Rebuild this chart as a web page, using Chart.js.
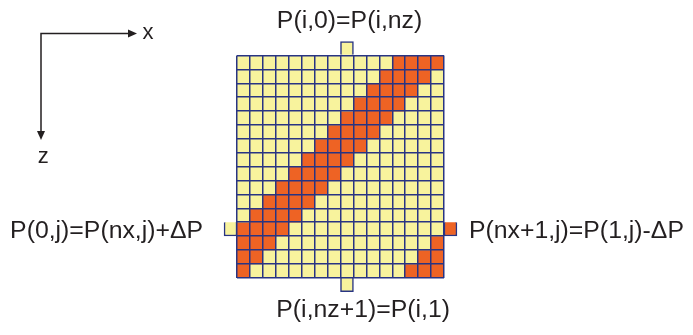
<!DOCTYPE html>
<html>
<head>
<meta charset="utf-8">
<script src="https://cdn.jsdelivr.net/npm/chart.js@4/dist/chart.umd.min.js"></script>
<style>
  html, body { margin: 0; padding: 0; background: #ffffff; }
  #wrap { width: 693px; height: 335px; }
</style>
</head>
<body>
<div id="wrap"><canvas id="grid" width="693" height="335"></canvas></div>
<script>
// Grid size (columns along x, rows along z)
const nx = 16;
const nz = 16;

// Cell states, row by row from the top: 1 = phase B (orange), 0 = phase A (yellow)
const cellRows = [
  '0000000000001111',
  '0000000000011110',
  '0000000000111100',
  '0000000001111000',
  '0000000011110000',
  '0000000111100000',
  '0000001111000000',
  '0000011110000000',
  '0000111100000000',
  '0001111000000000',
  '0011110000000000',
  '0111100000000000',
  '1111000000000000',
  '1110000000000001',
  '1100000000000011',
  '1000000000000111'
];

// Ghost cells outside the domain: column, row, state
const ghostCols   = [8, 8, -1, 16];
const ghostRows   = [-1, 16, 12, 12];
const ghostStates = [0, 0, 0, 1];

// Boundary-condition captions
const labelTop    = 'P(i,0)=P(i,nz)';
const labelBottom = 'P(i,nz+1)=P(i,1)';
const labelLeft   = 'P(0,j)=P(nx,j)+\u0394P';
const labelRight  = 'P(nx+1,j)=P(1,j)-\u0394P';
const axisLabelX  = 'x';
const axisLabelZ  = 'z';

const YELLOW = '#f8f39d';
const ORANGE = '#ee6324';
const NAVY   = '#283483';
const INK    = '#231f20';
const FONT   = '"Liberation Sans", Arial, sans-serif';

const fillFor = ctx => (ctx.raw && ctx.raw.s === 1 ? ORANGE : YELLOW);

const datasets = cellRows.map((row, r) => ({
  data: [...row].map((ch, c) => ({ x: c + 0.5, y: [r, r + 1], s: Number(ch) })),
  backgroundColor: fillFor,
  borderWidth: 0
}));

datasets.push({
  data: ghostCols.map((c, k) => ({ x: c + 0.5, y: [ghostRows[k], ghostRows[k] + 1], s: ghostStates[k] })),
  backgroundColor: fillFor,
  borderColor: NAVY,
  borderWidth: 1.5,
  clip: false
});

// one tick (and grid line) per cell boundary
const unitTicks = n => scale => {
  scale.ticks = Array.from({ length: n + 1 }, (_, i) => ({ value: i }));
};

// Captions and the x/z direction arrows
const annotations = {
  id: 'annotations',
  afterDraw(chart) {
    const { ctx, scales: { x, y } } = chart;
    ctx.save();
    ctx.fillStyle = INK;
    ctx.strokeStyle = INK;
    ctx.font = '24.8px ' + FONT;
    ctx.textBaseline = 'alphabetic';

    ctx.textAlign = 'center';
    ctx.fillText(labelTop, x.getPixelForValue(8.7), y.getPixelForValue(-1) - 14);
    ctx.fillText(labelBottom, x.getPixelForValue(9.75), y.getPixelForValue(17) + 25);

    ctx.textAlign = 'right';
    ctx.fillText(labelLeft, x.getPixelForValue(-1) - 21, y.getPixelForValue(13) + 1.6);
    ctx.textAlign = 'left';
    ctx.fillText(labelRight, x.getPixelForValue(17) + 12, y.getPixelForValue(13) + 1.6);

    // direction arrows
    const ox = 41, oy = 33.5, tipX = 137, tipZ = 140;
    ctx.lineWidth = 1.5;
    ctx.beginPath();
    ctx.moveTo(tipX - 8, oy);
    ctx.lineTo(ox, oy);
    ctx.lineTo(ox, tipZ - 8);
    ctx.stroke();
    ctx.beginPath();
    ctx.moveTo(tipX, oy);
    ctx.lineTo(tipX - 9, oy - 4);
    ctx.lineTo(tipX - 9, oy + 4);
    ctx.closePath();
    ctx.fill();
    ctx.beginPath();
    ctx.moveTo(ox, tipZ);
    ctx.lineTo(ox - 4, tipZ - 9);
    ctx.lineTo(ox + 4, tipZ - 9);
    ctx.closePath();
    ctx.fill();

    ctx.font = '22px ' + FONT;
    ctx.textAlign = 'left';
    ctx.fillText(axisLabelX, 142.5, 38.5);
    ctx.textAlign = 'center';
    ctx.fillText(axisLabelZ, 43.3, 163.3);
    ctx.restore();
  }
};

const gridLines = { color: NAVY, lineWidth: 1.5, drawTicks: false, offset: false, z: 1 };

new Chart(document.getElementById('grid'), {
  type: 'bar',
  data: { datasets },
  options: {
    responsive: false,
    animation: false,
    events: [],
    grouped: false,
    categoryPercentage: 1,
    barPercentage: 1,
    layout: { padding: { left: 237, right: 249, top: 55.5, bottom: 57.3 } },
    plugins: { legend: { display: false }, tooltip: { enabled: false } },
    scales: {
      x: {
        type: 'linear', min: 0, max: nx, offset: false,
        afterBuildTicks: unitTicks(nx),
        ticks: { display: false, autoSkip: false },
        grid: gridLines,
        border: { display: false }
      },
      y: {
        type: 'linear', reverse: true, min: 0, max: nz, offset: false,
        afterBuildTicks: unitTicks(nz),
        ticks: { display: false, autoSkip: false },
        grid: gridLines,
        border: { display: false }
      }
    }
  },
  plugins: [annotations]
});
</script>
</body>
</html>
